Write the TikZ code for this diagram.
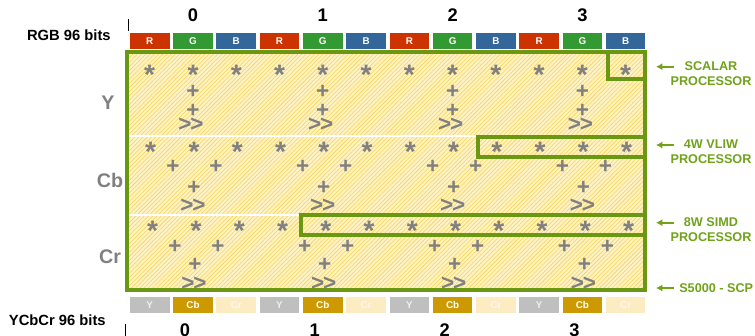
\documentclass[tikz,border=0pt]{standalone}
\usepackage{fontspec}
\setmainfont{Liberation Sans}
\usetikzlibrary{patterns}
\usetikzlibrary{arrows.meta}
\usepackage{xcolor}

\definecolor{colR}{RGB}{204,51,0}
\definecolor{colG}{RGB}{51,153,51}
\definecolor{colB}{RGB}{51,102,153}
\definecolor{colY}{RGB}{191,191,191}
\definecolor{colCb}{RGB}{204,153,0}
\definecolor{colCr}{RGB}{253,235,194}
\definecolor{boxgreen}{RGB}{107,152,18}
\definecolor{lblgreen}{RGB}{112,162,26}
\definecolor{opgray}{RGB}{128,128,128}
\definecolor{hatchbase}{RGB}{255,243,198}
\definecolor{hatchline}{RGB}{246,212,88}

\newcommand{\shr}{>\kern-0.8pt>}

\tikzset{
  chanbox/.style={minimum width=0.99cm, minimum height=0.4cm, inner sep=0pt,
    font=\bfseries\fontsize{7}{8}\selectfont},
  numlbl/.style={font=\bfseries\fontsize{13}{14}\selectfont, inner sep=0pt},
  bitlbl/.style={font=\bfseries\fontsize{10.5}{12}\selectfont, inner sep=0pt},
  complbl/.style={text=opgray, font=\bfseries\fontsize{14}{16}\selectfont, inner sep=0pt},
  ast/.style={text=opgray, font=\bfseries\fontsize{20}{20}\selectfont, inner sep=0pt,
    anchor=base, yshift=-11.2pt},
  op/.style={text=opgray, font=\bfseries\fontsize{16}{16}\selectfont, inner sep=0pt,
    text height=0.56em, text depth=0pt, anchor=base, yshift=-5.6pt},
  procbox/.style={boxgreen, line width=2.2pt},
  proclbl/.style={text=lblgreen, font=\bfseries\fontsize{9}{10.6}\selectfont,
    align=center, inner sep=0pt},
  procarrow/.style={lblgreen, line width=1.4pt, -{Latex[length=4.5pt,width=5pt]}}
}

\begin{document}
\begin{tikzpicture}[x=0.025cm, y=-0.025cm]
\useasboundingbox (0,0) rectangle (755,335);

% hatched area
\fill[hatchbase] (127,52) rectangle (645,290);
\fill[pattern=north east lines, pattern color=hatchline] (127,52) rectangle (645,290);

\draw[white, line width=1.6pt] (129,136)--(478,136);
\draw[white, line width=1.6pt] (129,215)--(301,215);

% RGB and YCbCr words
\draw[black, line width=0.4pt] (128,19)--(128,31);
\draw[black, line width=0.4pt] (125,324)--(125,336);

\node[bitlbl, anchor=east] (rgbtxt) at (111,35) {RGB 96 bits};
\node[bitlbl, anchor=east] (ycctxt) at (106,320) {YCbCr 96 bits};

\foreach \k in {0,...,3}{
  \pgfmathsetmacro\gx{149.7+43.27*(3*\k+1)}
  \node[numlbl] (top-\k) at (\gx,15) {\k};
  \node[numlbl] (bot-\k) at (\gx-8,330) {\k};
  \foreach \j/\c/\t in {0/colR/R,1/colG/G,2/colB/B}{
    \pgfmathsetmacro\cx{149.7+43.27*(3*\k+\j)}
    \node[chanbox, fill=\c, text=white] (rgb-\k-\j) at (\cx,41) {\t};
  }
  \node[chanbox, fill=colY, text=white!88!gray] (ycc-\k-0) at (\gx-43.27,305) {Y};
  \node[chanbox, fill=colCb, text=white] (ycc-\k-1) at (\gx,305) {Cb};
  \node[chanbox, fill=colCr, text=white!70!colCr] (ycc-\k-2) at (\gx+43.27,305) {Cr};
}

% operations
\foreach \i in {0,...,11}{
  \pgfmathsetmacro\cx{149.7+43.27*\i}
  \node[ast] (ya-\i) at (\cx,69) {*};
  \node[ast] (cba-\i) at (\cx+1,146) {*};
  \node[ast] (cra-\i) at (\cx+3,225) {*};
}

\foreach \k in {0,...,3}{
  \pgfmathsetmacro\gx{149.7+43.27*(3*\k+1)}
  % Y
  \node[op] (yp1-\k) at (\gx,91) {+};
  \node[op] (yp2-\k) at (\gx,110) {+};
  \node[op] (ys-\k) at (\gx-2,124) {\shr};
  % Cb
  \node[op] (cbp1-\k) at (\gx-20,166) {+};
  \node[op] (cbp2-\k) at (\gx+23,166) {+};
  \node[op] (cbp3-\k) at (\gx+1,187) {+};
  \node[op] (cbs-\k) at (\gx,205) {\shr};
  % Cr
  \node[op] (crp1-\k) at (\gx-18,246) {+};
  \node[op] (crp2-\k) at (\gx+25,246) {+};
  \node[op] (crp3-\k) at (\gx+2,264) {+};
  \node[op] (crs-\k) at (\gx+1,283) {\shr};
}

\node[complbl] (ylbl) at (108,103) {Y};
\node[complbl] (cblbl) at (110,180) {Cb};
\node[complbl] (crlbl) at (110,257) {Cr};

% processor boxes
\draw[procbox] (608,52) rectangle (645,79);
\draw[procbox] (478,137) rectangle (645,157);
\draw[procbox] (301,215) rectangle (645,235);
\draw[procbox] (127,52) rectangle (645,290);

% labels on the right
\node[proclbl] (scalar) at (711,73.5) {SCALAR\\PROCESSOR};
\node[proclbl] (vliw) at (711,151.5) {4W VLIW\\PROCESSOR};
\node[proclbl] (simd) at (711,229.5) {8W SIMD\\PROCESSOR};
\node[proclbl, anchor=west] (scp) at (679,288) {S5000 - SCP};

\coordinate (scalar-tail) at (674,66.7);
\coordinate (scalar-tip) at (656,66.7);
\coordinate (vliw-tail) at (674,145);
\coordinate (vliw-tip) at (656,145);
\coordinate (simd-tail) at (674,222.7);
\coordinate (simd-tip) at (656,222.7);
\coordinate (scp-tail) at (674,288);
\coordinate (scp-tip) at (656,288);

\draw[procarrow] (scalar-tail) -- (scalar-tip);
\draw[procarrow] (vliw-tail) -- (vliw-tip);
\draw[procarrow] (simd-tail) -- (simd-tip);
\draw[procarrow] (scp-tail) -- (scp-tip);

\end{tikzpicture}
\end{document}
